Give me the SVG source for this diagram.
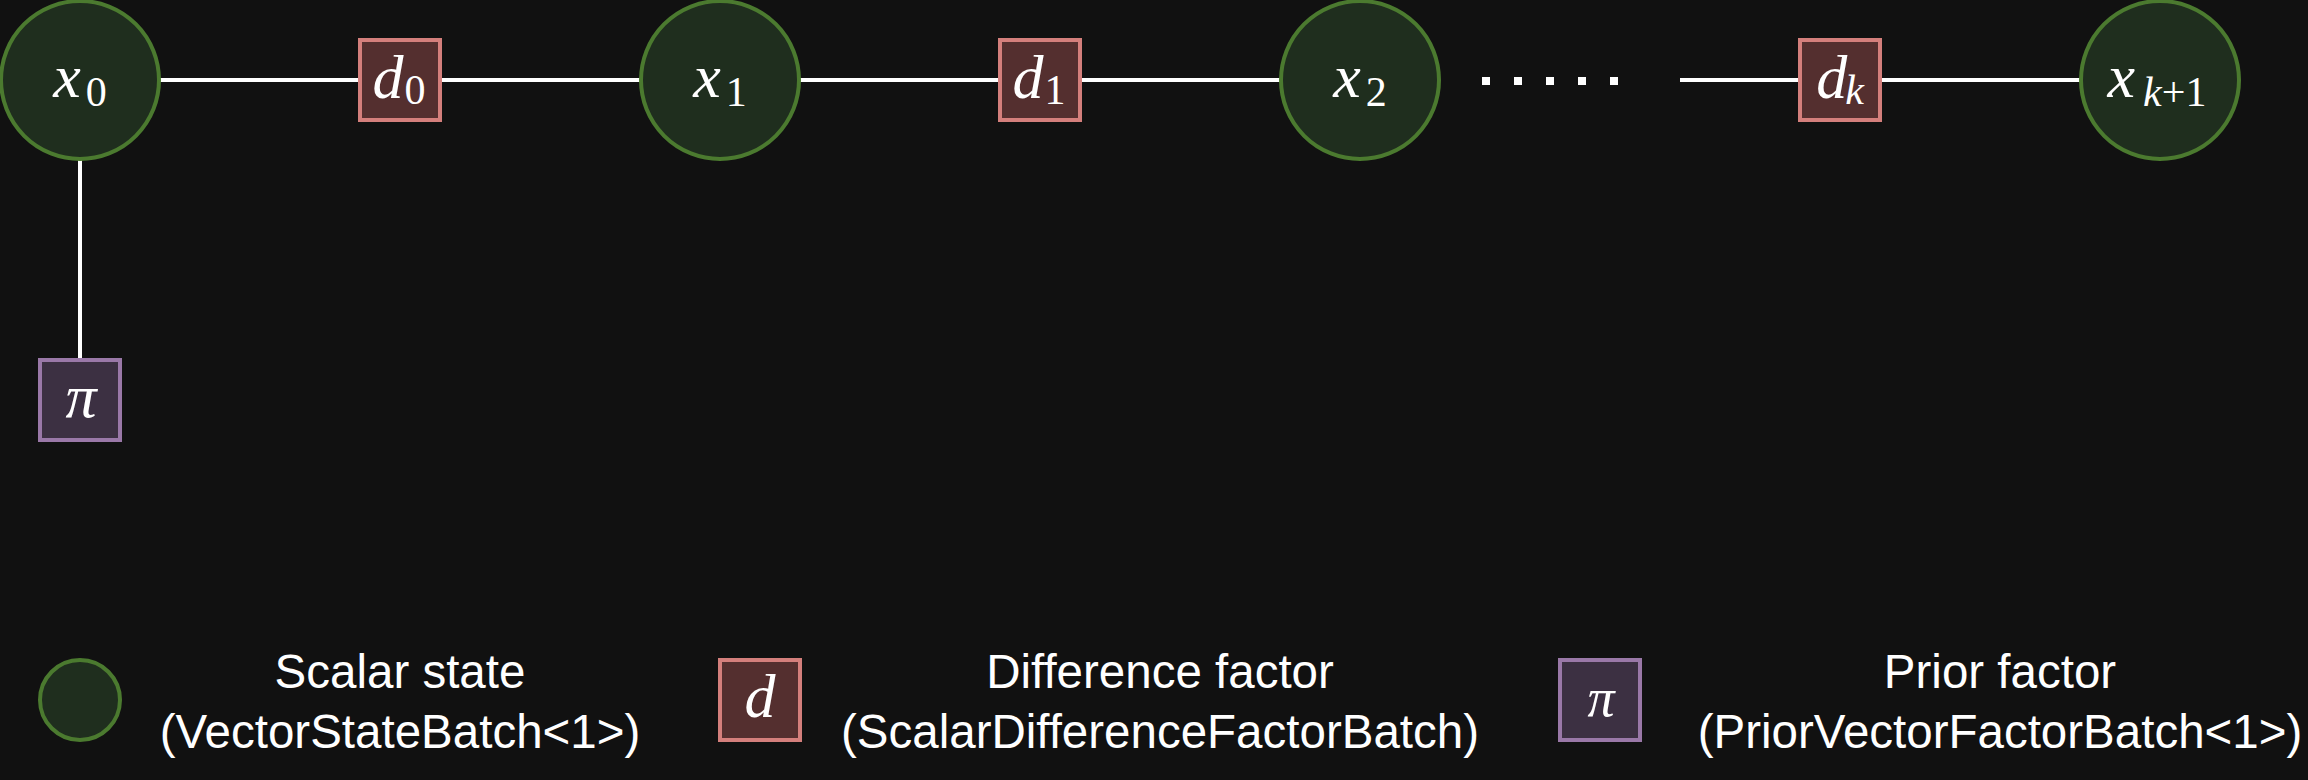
<svg xmlns="http://www.w3.org/2000/svg" width="2308" height="780" viewBox="0 0 2308 780">
<style>
.state{fill:#1f2e1e;stroke:#4b7a2f;stroke-width:4}
.diff{fill:#542f2f;stroke:#d47f7c;stroke-width:4}
.prior{fill:#3c3042;stroke:#9a78a8;stroke-width:4}
.edge{stroke:#ffffff;stroke-width:4;fill:none}
.math{font-family:"Liberation Serif","Times New Roman",serif;font-size:62px;fill:#ffffff;font-style:italic;text-anchor:middle}
.sub{font-size:42px;font-style:normal}
.subi{font-size:42px;font-style:italic}
.leg{font-family:"Liberation Sans",Arial,sans-serif;font-size:47.5px;fill:#ffffff;text-anchor:middle}
</style>
<rect width="2308" height="780" fill="#111111"/>
<g id="connectors">
<line class="edge" x1="160" y1="80" x2="360" y2="80"/>
<line class="edge" x1="440" y1="80" x2="640" y2="80"/>
<line class="edge" x1="800" y1="80" x2="1000" y2="80"/>
<line class="edge" x1="1080" y1="80" x2="1280" y2="80"/>
<line class="edge" x1="1680" y1="80" x2="1800" y2="80"/>
<line class="edge" x1="1880" y1="80" x2="2080" y2="80"/>
<line class="edge" x1="80" y1="160" x2="80" y2="360"/>
<line x1="1482" y1="81" x2="1618" y2="81" stroke="#ffffff" stroke-width="8" stroke-dasharray="8 24"/>
</g>
<g id="x0">
<circle class="state" cx="80" cy="80" r="79"/>
<text class="math" x="80" y="97">x<tspan class="sub" dx="5" dy="9">0</tspan></text>
</g>
<g id="d0">
<rect class="diff" x="360" y="40" width="80" height="80"/>
<text class="math" x="399" y="98">d<tspan class="sub" dx="1" dy="6">0</tspan></text>
</g>
<g id="x1">
<circle class="state" cx="720" cy="80" r="79"/>
<text class="math" x="720" y="97">x<tspan class="sub" dx="5" dy="9">1</tspan></text>
</g>
<g id="d1">
<rect class="diff" x="1000" y="40" width="80" height="80"/>
<text class="math" x="1039" y="98">d<tspan class="sub" dx="1" dy="6">1</tspan></text>
</g>
<g id="x2">
<circle class="state" cx="1360" cy="80" r="79"/>
<text class="math" x="1360" y="97">x<tspan class="sub" dx="5" dy="9">2</tspan></text>
</g>
<g id="dk">
<rect class="diff" x="1800" y="40" width="80" height="80"/>
<text class="math" x="1840" y="98">d<tspan class="subi" dx="-2" dy="6">k</tspan></text>
</g>
<g id="xk1">
<circle class="state" cx="2160" cy="80" r="79"/>
<text class="math" x="2157" y="97">x<tspan class="subi" dx="8" dy="9">k</tspan><tspan class="sub">+1</tspan></text>
</g>
<g id="pi">
<rect class="prior" x="40" y="360" width="80" height="80"/>
<text class="math" x="81" y="417">π</text>
</g>
<g id="legend-state">
<circle class="state" cx="80" cy="700" r="40"/>
<text class="leg" x="400" y="688">Scalar state</text>
<text class="leg" x="400" y="748">(VectorStateBatch&lt;1&gt;)</text>
</g>
<g id="legend-diff">
<rect class="diff" x="720" y="660" width="80" height="80"/>
<text class="math" x="760" y="717">d</text>
<text class="leg" x="1160" y="688">Difference factor</text>
<text class="leg" x="1160" y="748">(ScalarDifferenceFactorBatch)</text>
</g>
<g id="legend-prior">
<rect class="prior" x="1560" y="660" width="80" height="80"/>
<text class="math" x="1601" y="716" style="font-size:54px">π</text>
<text class="leg" x="2000" y="688">Prior factor</text>
<text class="leg" x="2000" y="748">(PriorVectorFactorBatch&lt;1&gt;)</text>
</g>
</svg>
